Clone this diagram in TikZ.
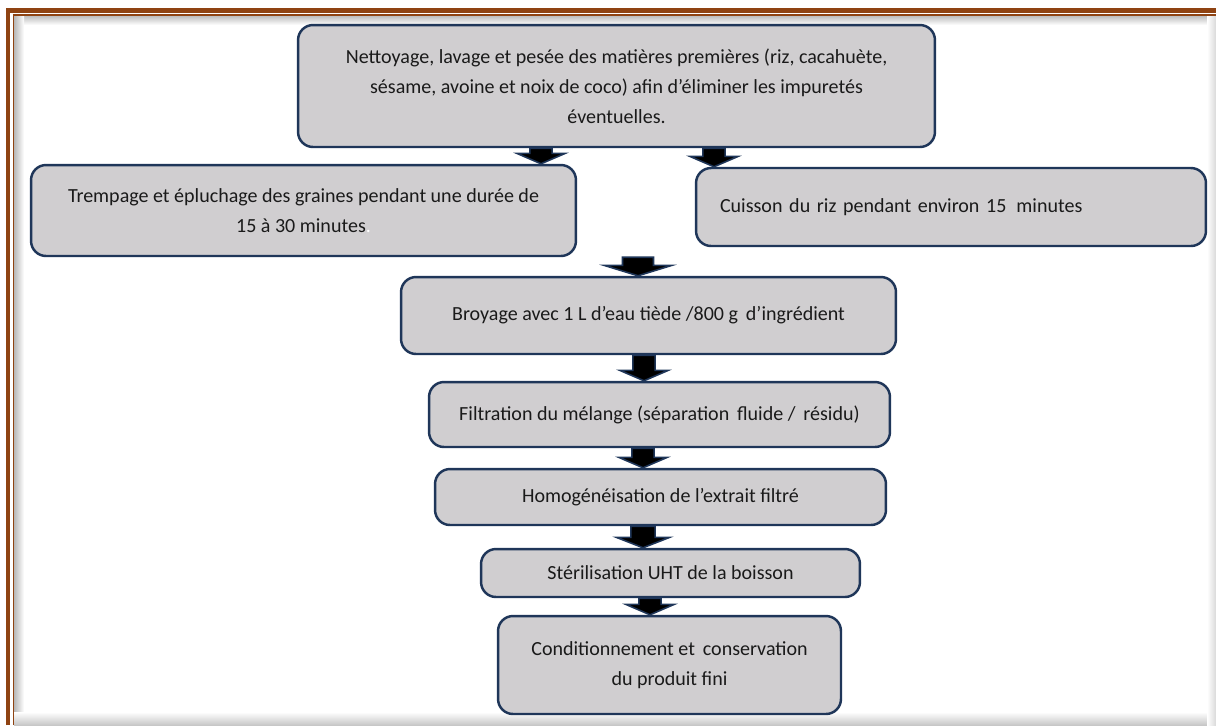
\documentclass[tikz,border=0pt]{standalone}
\usepackage{fontspec}
\setmainfont{Carlito}
\usetikzlibrary{calc}
\usepackage{xcolor}
\definecolor{cadrebrun}{HTML}{8F4312}
\definecolor{bordnavy}{HTML}{1F3659}
\definecolor{fondgris}{HTML}{D0CED0}
\definecolor{texte}{HTML}{1A1A1A}

% grosse fleche pleine entre deux points (facteur de largeur optionnel)
\newcommand{\fleche}[3][1]{%
  \draw[fill=black, draw=bordnavy, line width=0.9pt, line join=miter]
    let \p1=(#2), \p2=(#3) in
    (\x1-6.3pt*#1,\y1) -- (\x1+6.3pt*#1,\y1) -- (\x1+6.3pt*#1,\y2+5.9pt)
    -- (\x1+13.7pt*#1,\y2+5.9pt) -- (\x1,\y2) -- (\x1-13.7pt*#1,\y2+5.9pt)
    -- (\x1-6.3pt*#1,\y2+5.9pt) -- cycle;}

\begin{document}
\begin{tikzpicture}[x=0.02cm, y=-0.02cm,
    etape/.style={draw=bordnavy, line width=1.4pt, fill=fondgris,
      rounded corners=0.3cm, text=texte, align=center,
      font=\fontsize{11.4}{17}\selectfont}]
  \useasboundingbox (0,0) rectangle (1216,725);
  % Page frame and its shadow
  \fill[white] (0,0) rectangle (1216,725);
  \shade[top color=black!28, bottom color=white] (14,15) rectangle (1216,25);
  \shade[left color=black!28, right color=white] (14,15) rectangle (24,725);
  \shade[top color=white, bottom color=black!22] (14,712) rectangle (1216,725);
  \shade[left color=white, right color=black!15] (1207,15) rectangle (1216,725);
  \draw[cadrebrun, line width=2.4pt] (8,725) -- (8,10.5) -- (1216,10.5);
  \draw[cadrebrun, line width=0.8pt] (13.5,725) -- (13.5,15) -- (1216,15);
  % Step 1 — cleaning
  \node[etape, minimum width=12.74cm, minimum height=2.44cm] (nettoyage) at (616.5,86)
    {Nettoyage, lavage et pesée des matières premières (riz, cacahuète,\\
     sésame, avoine et noix de coco) afin d’éliminer les impuretés\\
     éventuelles.};
  % Step 2 — two branches
  \node[etape, minimum width=10.9cm, minimum height=1.82cm] (trempage) at (303.5,210.5)
    {Trempage et épluchage des graines pendant une durée de\\
     15 à 30 minutes\textcolor{white}{.}};
  \node[etape, minimum width=10.2cm, minimum height=1.56cm, align=left,
        text width=9.24cm] (cuisson) at (951,207)
    {Cuisson du riz pendant environ 15\,\ minutes};
  % Main line
  \node[etape, minimum width=9.9cm, minimum height=1.54cm] (broyage) at (648.5,315.5)
    {Broyage avec 1 L d’eau tiède /800 g\,\ d’ingrédient};
  \node[etape, minimum width=9.22cm, minimum height=1.3cm] (filtration) at (659.5,414.5)
    {Filtration du mélange (séparation\,\ fluide /\,\ résidu)};
  \node[etape, minimum width=9.02cm, minimum height=1.12cm] (homog) at (660.5,497)
    {Homogénéisation de l’extrait filtré};
  \node[etape, minimum width=7.58cm, minimum height=0.96cm] (sterilisation) at (670.5,573)
    {Stérilisation UHT de la boisson};
  \node[etape, minimum width=6.86cm, minimum height=1.96cm] (conditionnement) at (669.5,665)
    {Conditionnement et\,\ conservation\\
     du produit fini};
  % Block arrows
  \fleche{nettoyage.south -| 541,0}{trempage.north -| 541,0}
  \fleche{nettoyage.south -| 714,0}{cuisson.north -| 714,0}
  \fleche[1.4]{trempage.south -| 638,0}{broyage.north -| 638,0}
  \fleche{broyage.south -| 644,0}{filtration.north -| 644,0}
  \fleche{filtration.south -| 643,0}{homog.north -| 643,0}
  \fleche[1.1]{homog.south -| 643,0}{sterilisation.north -| 643,0}
  \fleche{sterilisation.south -| 650,0}{conditionnement.north -| 650,0}
\end{tikzpicture}
\end{document}
